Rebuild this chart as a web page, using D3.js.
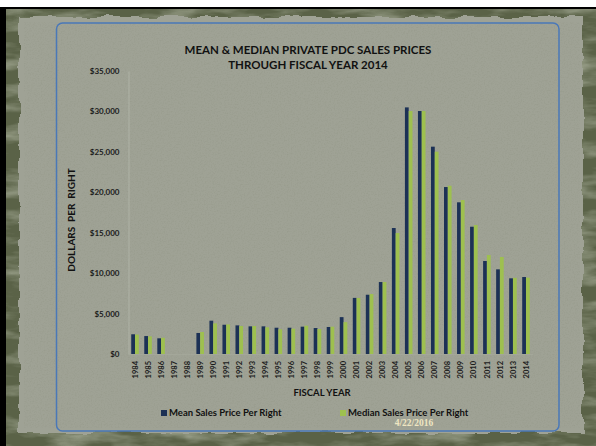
<!DOCTYPE html>
<html>
<head>
<meta charset="utf-8">
<script src="https://cdn.jsdelivr.net/npm/d3@7"></script>
<style>
  body { margin: 0; background: #fff; }
  svg { display: block; }
  text { font-family: Lato, 'Open Sans', sans-serif; }
</style>
</head>
<body>
<svg id="chart"></svg>
<script>
const years = ['1984', '1985', '1986', '1987', '1988', '1989', '1990', '1991', '1992', '1993',
  '1994', '1995', '1996', '1997', '1998', '1999', '2000', '2001', '2002', '2003', '2004',
  '2005', '2006', '2007', '2008', '2009', '2010', '2011', '2012', '2013', '2014'];
const meanPrice = [2440, 2220, 1940, null, null, 2600, 4120, 3620, 3540, 3420, 3420, 3250,
  3250, 3380, 3210, 3340, 4560, 6940, 7330, 8900, 15580, 30500, 30050, 25640, 20650, 18760,
  15740, 11500, 10470, 9360, 9520];
const medianPrice = [2400, 2180, 2010, null, null, 2720, 3790, 3660, 3460, 3460, 3300, 3050,
  3130, 3500, 3090, 3380, 3940, 6920, 7420, 8900, 14960, 30050, 30050, 25020, 20810, 19040,
  15950, 12240, 12000, 9420, 9440];
const seriesNames = ['Mean Sales Price Per Right', 'Median Sales Price Per Right'];
const yTicks = [0, 5000, 10000, 15000, 20000, 25000, 30000, 35000];
const titleLines = ['MEAN & MEDIAN PRIVATE PDC SALES PRICES', 'THROUGH FISCAL YEAR 2014'];

const width = 596;
const height = 446;
const plot = { left: 128.5, right: 532.5, top: 71, bottom: 354 };

const svg = d3.select('#chart')
  .attr('width', width)
  .attr('height', height);

const defs = svg.append('defs');

// rough torn edge for the paper
const torn = defs.append('filter').attr('id', 'torn')
  .attr('x', '-5%').attr('y', '-5%').attr('width', '110%').attr('height', '110%');
torn.append('feTurbulence').attr('type', 'fractalNoise')
  .attr('baseFrequency', '0.05').attr('numOctaves', 3).attr('seed', 7).attr('result', 'n');
torn.append('feDisplacementMap').attr('in', 'SourceGraphic').attr('in2', 'n')
  .attr('scale', 8).attr('xChannelSelector', 'R').attr('yChannelSelector', 'G');

// speckle texture
const grain = defs.append('filter').attr('id', 'grain');
grain.append('feTurbulence').attr('type', 'fractalNoise')
  .attr('baseFrequency', '0.7').attr('numOctaves', 3).attr('seed', 2).attr('result', 'n');
grain.append('feColorMatrix').attr('in', 'n').attr('type', 'matrix')
  .attr('values', '0 0 0 0 0.25  0 0 0 0 0.27  0 0 0 0 0.2  1.4 0 0 0 -0.62')
  .attr('result', 'c');
grain.append('feComposite').attr('in', 'c').attr('in2', 'SourceGraphic').attr('operator', 'in');

const blotch = defs.append('filter').attr('id', 'blotch');
blotch.append('feTurbulence').attr('type', 'fractalNoise')
  .attr('baseFrequency', '0.02 0.07').attr('numOctaves', 4).attr('seed', 11).attr('result', 'n');
blotch.append('feColorMatrix').attr('in', 'n').attr('type', 'matrix')
  .attr('values', '0 0 0 0 0.52  0 0 0 0 0.55  0 0 0 0 0.44  1.3 0 0 0 -0.55')
  .attr('result', 'c');
blotch.append('feComposite').attr('in', 'c').attr('in2', 'SourceGraphic').attr('operator', 'in');

// frame
svg.append('rect').attr('x', 0).attr('y', 7).attr('width', width).attr('height', 2).attr('fill', '#000');
svg.append('rect').attr('x', 0).attr('y', 7).attr('width', 6).attr('height', height - 7).attr('fill', '#000');
svg.append('rect').attr('x', 6).attr('y', 9).attr('width', width - 6).attr('height', height - 9)
  .attr('fill', '#5a6247');
svg.append('rect').attr('x', 6).attr('y', 9).attr('width', width - 6).attr('height', height - 9)
  .attr('fill', '#fff').attr('filter', 'url(#blotch)');

// paper
svg.append('rect')
  .attr('x', 19).attr('y', 17).attr('width', 564).attr('height', 416)
  .attr('fill', '#9fa295')
  .attr('filter', 'url(#torn)');
svg.append('rect')
  .attr('x', 24).attr('y', 22).attr('width', 556).attr('height', 406)
  .attr('fill', '#fff').attr('opacity', 0.45)
  .attr('filter', 'url(#grain)');

svg.append('rect')
  .attr('x', 56.5).attr('y', 23).attr('width', 502.5).attr('height', 408)
  .attr('rx', 6)
  .attr('fill', 'none')
  .attr('stroke', '#4a78b8')
  .attr('stroke-width', 1.5);

// scales
const x0 = d3.scaleBand()
  .domain(years)
  .range([plot.left, plot.right])
  .paddingInner(0.42)
  .paddingOuter(0.21);
const x1 = d3.scaleBand()
  .domain(seriesNames)
  .range([0, x0.bandwidth()]);
const y = d3.scaleLinear()
  .domain([0, 35000])
  .range([plot.bottom, plot.top]);
const color = d3.scaleOrdinal().domain(seriesNames).range(['#1c3155', '#9ec04f']);

const rows = years.map((yr, i) => ({ year: yr, values: [meanPrice[i], medianPrice[i]] }));

// axes
const yAxis = d3.axisLeft(y)
  .tickValues(yTicks)
  .tickFormat(d3.format('$,'))
  .tickSize(0)
  .tickPadding(9);
const gy = svg.append('g')
  .attr('transform', `translate(${plot.left},0)`)
  .call(yAxis);
gy.select('.domain').attr('stroke', '#b4b7ab').attr('stroke-width', 0.8);
gy.selectAll('text')
  .attr('font-size', 8)
  .attr('font-weight', 700)
  .attr('fill', '#1c1c1c');

const xAxis = d3.axisBottom(x0).tickSize(0).tickPadding(0);
const gx = svg.append('g')
  .attr('transform', `translate(0,${plot.bottom})`)
  .call(xAxis);
gx.select('.domain').attr('stroke', '#a8ab9e').attr('stroke-width', 0.6);
gx.selectAll('text')
  .attr('font-size', 7.5)
  .attr('font-weight', 700)
  .attr('fill', '#1c1c1c')
  .attr('transform', 'rotate(-90)')
  .attr('text-anchor', 'end')
  .attr('x', -7)
  .attr('y', 0)
  .attr('dy', '0.35em');

// bars
const group = svg.append('g')
  .selectAll('g')
  .data(rows)
  .enter().append('g')
  .attr('transform', d => `translate(${x0(d.year)},0)`);

group.selectAll('rect')
  .data(d => d.values.map((v, i) => ({ key: seriesNames[i], value: v })).filter(d => d.value != null))
  .enter().append('rect')
  .attr('x', d => x1(d.key))
  .attr('y', d => y(d.value))
  .attr('width', x1.bandwidth())
  .attr('height', d => y(0) - y(d.value))
  .attr('fill', d => color(d.key));

// titles
svg.append('text')
  .attr('text-anchor', 'middle')
  .attr('font-size', 11.5)
  .attr('font-weight', 700)
  .attr('fill', '#111')
  .selectAll('tspan')
  .data(titleLines)
  .enter().append('tspan')
  .attr('x', 308)
  .attr('y', (d, i) => 54 + i * 15)
  .text(d => d);

svg.append('text')
  .attr('x', 322)
  .attr('y', 396)
  .attr('text-anchor', 'middle')
  .attr('font-size', 9.5)
  .attr('font-weight', 700)
  .attr('fill', '#111')
  .text('FISCAL YEAR');

svg.append('text')
  .attr('transform', 'translate(75,220) rotate(-90)')
  .attr('text-anchor', 'middle')
  .attr('font-size', 10)
  .attr('font-weight', 700)
  .attr('fill', '#111')
  .attr('xml:space', 'preserve')
  .text('DOLLARS  PER  RIGHT');

// legend
const legendX = [161, 340];
const legend = svg.append('g')
  .selectAll('g')
  .data(seriesNames)
  .enter().append('g')
  .attr('transform', (d, i) => `translate(${legendX[i]},410)`);

legend.append('rect')
  .attr('width', 6)
  .attr('height', 6)
  .attr('fill', d => color(d));

legend.append('text')
  .attr('x', 8)
  .attr('y', 6)
  .attr('font-size', 9.5)
  .attr('font-weight', 700)
  .attr('fill', '#111')
  .text(d => d);

svg.append('text')
  .attr('x', 414)
  .attr('y', 425.5)
  .attr('text-anchor', 'middle')
  .style('font-family', "'Liberation Serif', 'DejaVu Serif', serif")
  .attr('font-size', 9.5)
  .attr('font-weight', 700)
  .attr('fill', '#efe6c2')
  .text('4/22/2016');
</script>
</body>
</html>
